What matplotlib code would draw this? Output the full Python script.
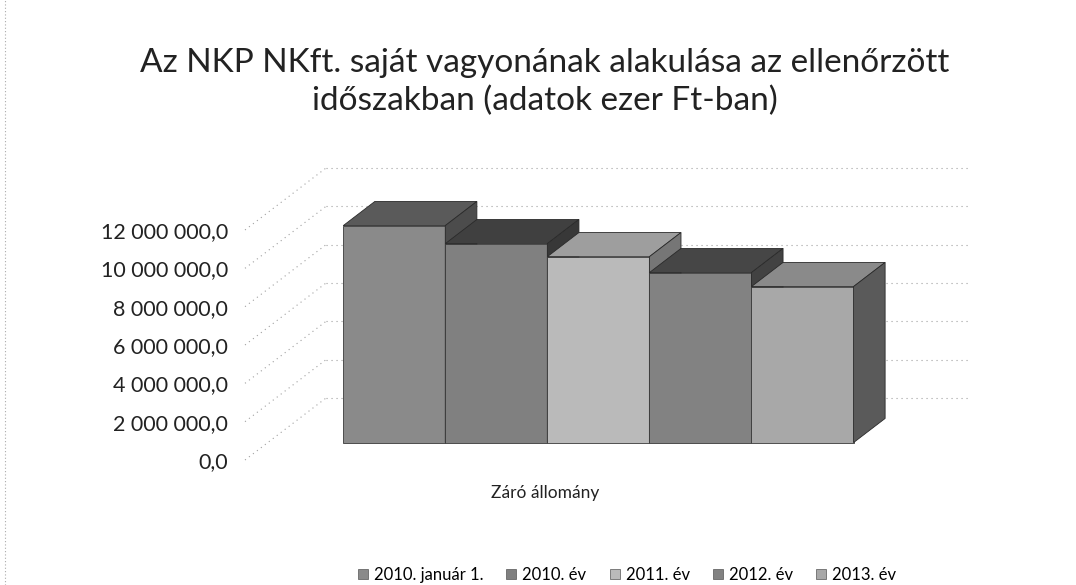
import numpy as np
import matplotlib
matplotlib.use("Agg")
from matplotlib import pyplot as plt
from matplotlib.patches import Polygon, Patch
from matplotlib.lines import Line2D

plt.rcParams['font.family'] = ['Lato', 'DejaVu Sans']

# data (ezer Ft)
series = ['2010. január 1.', '2010. év', '2011. év', '2012. év', '2013. év']
values = [11320000, 10380000, 9700000, 8870000, 8140000]
category = 'Záró állomány'
yticks = [0, 2000000, 4000000, 6000000, 8000000, 10000000, 12000000]
title = 'Az NKP NKft. saját vagyonának alakulása az ellenőrzött\nidőszakban (adatok ezer Ft-ban)'

front_col = ['#8a8a8a', '#808080', '#bababa', '#828282', '#a8a8a8']
top_col = ['#5a5a5a', '#404040', '#9e9e9e', '#464646', '#8a8a8a']
side_col = ['#4c4c4c', '#383838', '#767676', '#424242', '#5a5a5a']

# fake 3d geometry (data units)
W = 6.31          # floor width
DX = 0.794        # full depth, x
DY = 3.234e6      # full depth, y
t_front, t_back = 0.28, 0.67
gap = 0.74
label_x = 2.94

fig = plt.figure(figsize=(10.76, 5.85), dpi=100)
ax = fig.add_axes([0.2277, 0.2137, 0.5985, 0.3932])
ax.set_xlim(0, W)
ax.set_ylim(0, 12000000)
for s in ax.spines.values():
    s.set_visible(False)

# walls gridlines
for v in yticks:
    ax.plot([0, DX], [v, v + DY], color='#a0a0a0', lw=0.8, ls=(0, (1, 3.5)), clip_on=False, zorder=1)
    ax.plot([DX, W + DX], [v + DY, v + DY], color='#a0a0a0', lw=0.8, ls=(0, (1, 3.5)), clip_on=False, zorder=1)

fx = t_front * DX
fy = t_front * DY
bdx = (t_back - t_front) * DX
bdy = (t_back - t_front) * DY
for i, v in enumerate(values):
    x0 = gap + i + fx
    ax.bar(x0, v, width=1.0, bottom=fy, align='edge', color=front_col[i],
           edgecolor='#3a3a3a', lw=0.6, zorder=3 + 3 * i, clip_on=False)
    top = Polygon([(x0, fy + v), (x0 + 1, fy + v), (x0 + 1 + bdx, fy + v + bdy), (x0 + bdx, fy + v + bdy)],
                  closed=True, fc=top_col[i], ec='#2a2a2a', lw=0.6, zorder=4 + 3 * i, clip_on=False)
    side = Polygon([(x0 + 1, fy), (x0 + 1 + bdx, fy + bdy), (x0 + 1 + bdx, fy + v + bdy), (x0 + 1, fy + v)],
                   closed=True, fc=side_col[i], ec='#2a2a2a', lw=0.6, zorder=5 + 3 * i, clip_on=False)
    ax.add_patch(top)
    ax.add_patch(side)

ax.set_yticks(yticks)
ax.set_yticklabels([f"{v:,.1f}".replace(',', ' ').replace('.', ',') for v in yticks], fontsize=15.5, color='#222222')
ax.tick_params(axis='y', length=0, pad=12)
ax.set_xticks([label_x])
ax.set_xticklabels([category], fontsize=12.5, color='#222222')
ax.tick_params(axis='x', length=0, pad=18)

fig.text(545 / 1076, 1 - 82 / 585, title, ha='center', va='center', fontsize=24, linespacing=1.32, color='#222222')

handles = [Patch(facecolor=front_col[i], edgecolor='#555555', lw=0.5) for i in range(len(series))]
fig.legend(handles, series, loc='center', bbox_to_anchor=(627 / 1076, 1 - 575 / 585), ncol=5, frameon=False,
           fontsize=12, handlelength=0.6, handleheight=0.6, handletextpad=0.35, columnspacing=1.4)

fig.add_artist(Line2D([0.005, 0.005], [0, 1], color='#aaaaaa', lw=0.8, ls=(0, (1, 2))))

plt.savefig('out.png', dpi=100)
